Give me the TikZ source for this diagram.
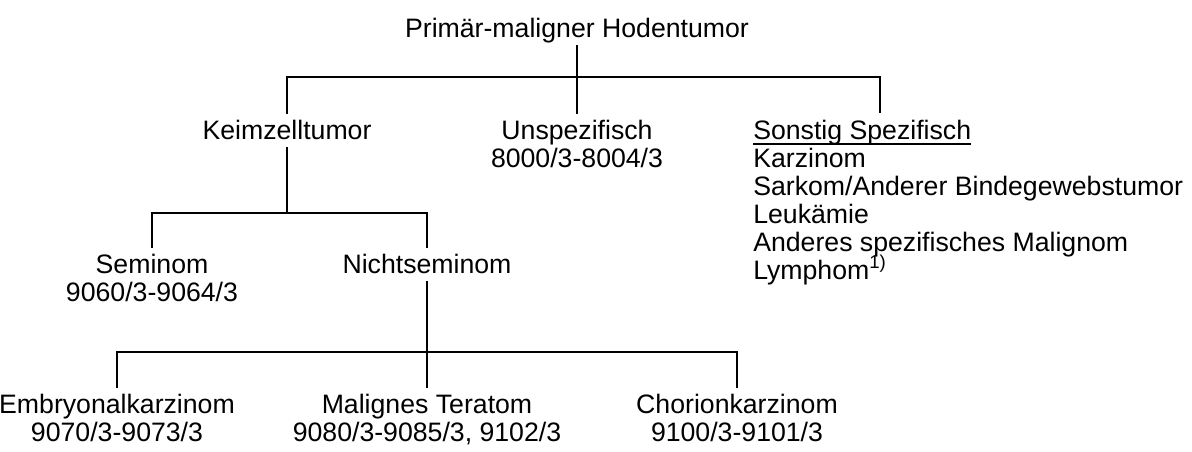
\documentclass[tikz,border=0pt]{standalone}
\usepackage{fontspec}
\setmainfont{Liberation Sans}
\tikzset{
  lbl/.style={inner sep=0pt, text height=18.75pt, text depth=6pt, anchor=base,
    font=\fontsize{20pt}{21pt}\selectfont},
  lst/.style={lbl, anchor=base west},
  branch/.style={line width=1.5pt}
}
\begin{document}
\begin{tikzpicture}[x=0.75pt, y=-0.75pt]
\useasboundingbox (0,0) rectangle (1192,451);
\node[lbl] (hoden) at (577,37) {Primär-maligner Hodentumor};
\node[lbl] (keim) at (287,139) {Keimzelltumor};
\node[lbl] (unspez) at (577,139) {Unspezifisch};
\node[lbl] (unspezcode) at (577,167) {8000/3-8004/3};
\node[lst] (sonst) at (753,139) {Sonstig Spezifisch};
\node[lst] (karz) at (753,167) {Karzinom};
\node[lst] (sark) at (753,195) {Sarkom/Anderer Bindegewebstumor};
\node[lst] (leuk) at (753,223) {Leukämie};
\node[lst] (andmal) at (753,251) {Anderes spezifisches Malignom};
\node[lst] (lymph) at (753,279) {Lymphom\textsuperscript{1)}};
\node[lbl] (sem) at (152,273) {Seminom};
\node[lbl] (semcode) at (152,301) {9060/3-9064/3};
\node[lbl] (nsem) at (427,273) {Nichtseminom};
\node[lbl] (embryo) at (117,413) {Embryonalkarzinom};
\node[lbl] (embryocode) at (117,441) {9070/3-9073/3};
\node[lbl] (terat) at (427,413) {Malignes Teratom};
\node[lbl] (teratcode) at (427,441) {9080/3-9085/3, 9102/3};
\node[lbl] (chorio) at (737,413) {Chorionkarzinom};
\node[lbl] (choriocode) at (737,441) {9100/3-9101/3};
\coordinate (jtop) at (577,77);
\coordinate (sonsttop) at (880,113);
\coordinate (jkeim) at (287,213);
\coordinate (jnsem) at (427,352);
\draw[line width=1pt] ([yshift=2.5pt]sonst.south west) -- ([yshift=2.5pt]sonst.south east);
\draw[branch] (hoden.south) -- (jtop) -- (unspez.north);
\draw[branch] (keim.north) |- (jtop) -| (sonsttop);
\draw[branch] (keim.south) -- (jkeim);
\draw[branch] (sem.north) |- (jkeim) -| (nsem.north);
\draw[branch] (nsem.south) -- (jnsem) -- (terat.north);
\draw[branch] (embryo.north) |- (jnsem) -| (chorio.north);
\end{tikzpicture}
\end{document}
